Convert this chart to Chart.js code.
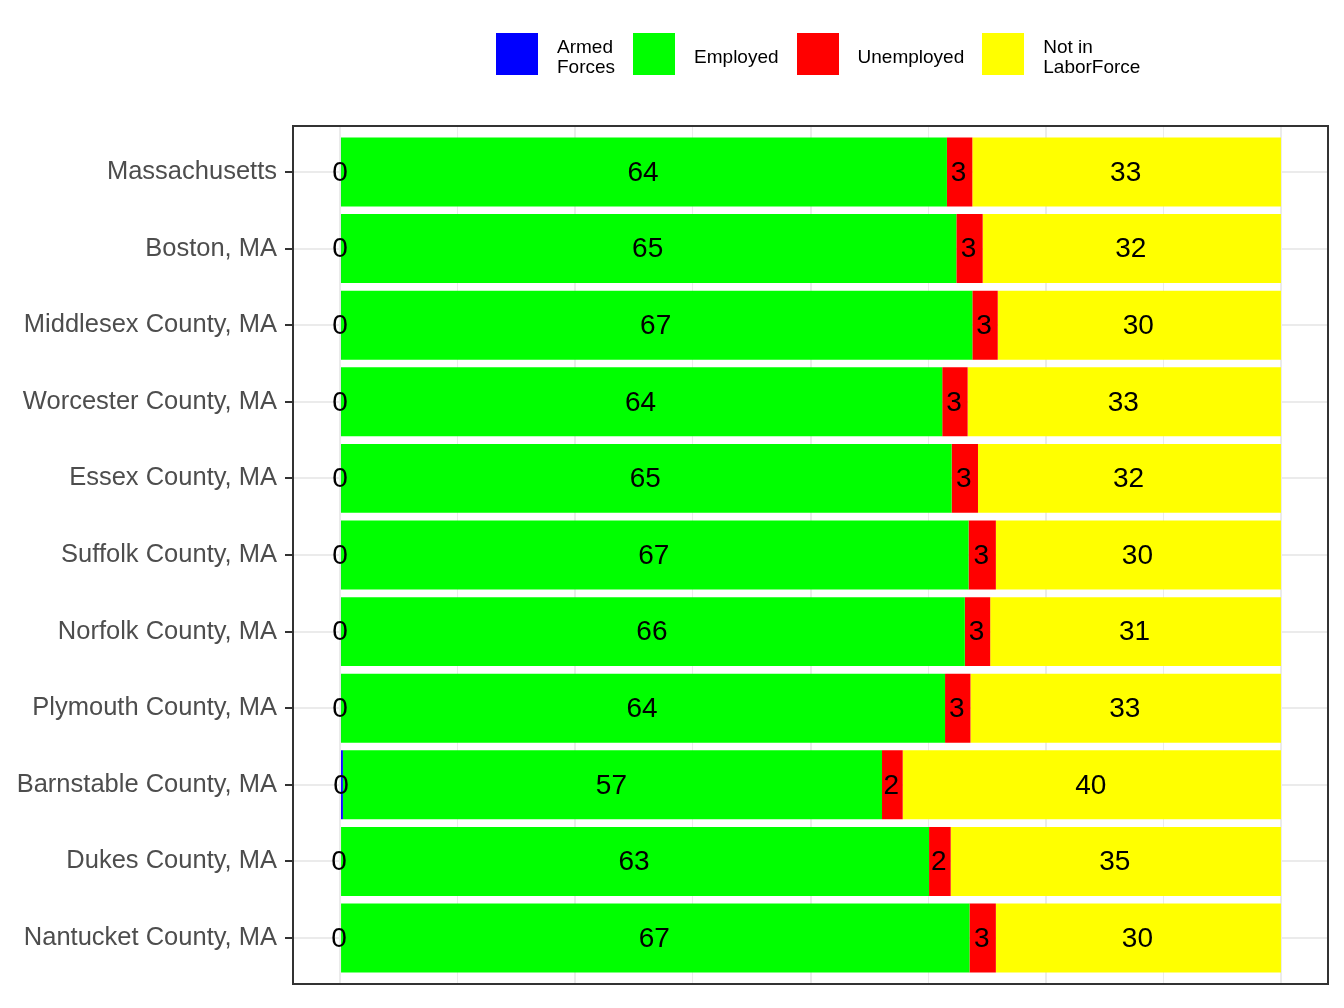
<!DOCTYPE html>
<html>
<head>
<meta charset="utf-8">
<script src="https://cdn.jsdelivr.net/npm/chart.js@4.4.0/dist/chart.umd.min.js"></script>
<style>
  html, body { margin: 0; padding: 0; background: #ffffff; }
  #wrap { position: relative; width: 1344px; height: 1008px; }
  #legend { position: absolute; left: 496px; top: 33px; display: flex; align-items: center;
            font-family: "Liberation Sans", Arial, sans-serif; font-size: 19px; color: #000; }
  .item { display: flex; align-items: center; margin-right: 18px; }
  .box { width: 42px; height: 42px; margin-right: 19px; }
  .lab { line-height: 20px; position: relative; top: 3px; }
</style>
</head>
<body>
<div id="wrap">
  <canvas id="c" width="1344" height="1008"></canvas>
  <div id="legend"></div>
</div>
<script>
const categories = ["Massachusetts", "Boston, MA", "Middlesex County, MA", "Worcester County, MA",
  "Essex County, MA", "Suffolk County, MA", "Norfolk County, MA", "Plymouth County, MA",
  "Barnstable County, MA", "Dukes County, MA", "Nantucket County, MA"];
const seriesNames = ["Armed Forces", "Employed", "Unemployed", "Not in LaborForce"];
const legendLabels = [["Armed", "Forces"], ["Employed"], ["Unemployed"], ["Not in", "LaborForce"]];
const seriesColors = ["#0000FF", "#00FF00", "#FF0000", "#FFFF00"];
const armedForces = [0.1, 0.1, 0.1, 0.1, 0.1, 0.1, 0.1, 0.1, 0.3, 0.0, 0.0];
const employed = [64.4, 65.4, 67.1, 63.9, 64.9, 66.7, 66.3, 64.2, 57.3, 62.6, 66.9];
const unemployed = [2.7, 2.8, 2.7, 2.7, 2.8, 2.9, 2.7, 2.7, 2.2, 2.3, 2.8];
const notInLaborForce = [32.8, 31.7, 30.1, 33.3, 32.2, 30.3, 30.9, 33.0, 40.2, 35.1, 30.3];
const xGridTicks = [0, 12.5, 25, 37.5, 50, 62.5, 75, 87.5, 100];

const seriesValues = [armedForces, employed, unemployed, notInLaborForce];

// HTML legend
const legendEl = document.getElementById('legend');
seriesNames.forEach((name, i) => {
  const item = document.createElement('div');
  item.className = 'item';
  const box = document.createElement('div');
  box.className = 'box';
  box.style.background = seriesColors[i];
  const lab = document.createElement('div');
  lab.className = 'lab';
  lab.innerHTML = legendLabels[i].join('<br>');
  item.appendChild(box);
  item.appendChild(lab);
  legendEl.appendChild(item);
});

const datasets = seriesNames.map((name, i) => ({
  label: name,
  data: seriesValues[i].map((v, j) => ({ x: v, y: j + 1 })),
  backgroundColor: seriesColors[i],
  borderWidth: 0,
  barPercentage: 0.9,
  categoryPercentage: 1.0
}));

const labelPlugin = {
  id: 'segLabels',
  afterDatasetsDraw(chart) {
    const ctx = chart.ctx;
    ctx.save();
    ctx.font = '28px "Liberation Sans", Arial, sans-serif';
    ctx.fillStyle = '#000000';
    ctx.textAlign = 'center';
    ctx.textBaseline = 'middle';
    chart.data.datasets.forEach((ds, di) => {
      const meta = chart.getDatasetMeta(di);
      meta.data.forEach((el, j) => {
        const v = seriesValues[di][j];
        const cx = (el.x + el.base) / 2;
        ctx.fillText(String(Math.round(v)), cx - 1, el.y + 1);
      });
    });
    ctx.restore();
  }
};

const borderPlugin = {
  id: 'panelBorder',
  afterDatasetsDraw(chart) {
    const a = chart.chartArea;
    const ctx = chart.ctx;
    ctx.save();
    ctx.strokeStyle = '#333333';
    ctx.lineWidth = 2;
    ctx.strokeRect(a.left, a.top, a.right - a.left, a.bottom - a.top);
    ctx.restore();
  }
};

new Chart(document.getElementById('c'), {
  type: 'bar',
  data: { datasets },
  plugins: [labelPlugin, borderPlugin],
  options: {
    indexAxis: 'y',
    responsive: false,
    animation: false,
    devicePixelRatio: 1,
    layout: { padding: { top: 126, bottom: 24, right: 16, left: 0 } },
    plugins: { legend: { display: false }, tooltip: { enabled: false } },
    scales: {
      x: {
        type: 'linear',
        stacked: true,
        min: -5,
        max: 105,
        offset: false,
        afterBuildTicks: (s) => { s.ticks = xGridTicks.map(v => ({ value: v })); },
        afterFit: (s) => { s.height = 0; },
        ticks: { display: false },
        border: { display: false },
        grid: {
          offset: false,
          drawTicks: false,
          color: '#EBEBEB',
          lineWidth: (c) => (c.tick && c.tick.value % 25 === 0) ? 2 : 1
        }
      },
      y: {
        type: 'linear',
        stacked: true,
        reverse: true,
        offset: false,
        min: 0.4,
        max: 11.6,
        afterBuildTicks: (s) => { s.ticks = categories.map((c, i) => ({ value: i + 1 })); },
        afterFit: (s) => { s.width = 293; },
        border: { display: false },
        grid: {
          offset: false,
          color: '#EBEBEB',
          lineWidth: 2,
          tickLength: 8,
          tickColor: '#333333',
          tickWidth: 2
        },
        ticks: {
          autoSkip: false,
          padding: 8,
          color: '#4D4D4D',
          font: { family: '"Liberation Sans", Arial, sans-serif', size: 25.5 },
          callback: (v) => categories[Math.round(v) - 1]
        }
      }
    }
  }
});
</script>
</body>
</html>
